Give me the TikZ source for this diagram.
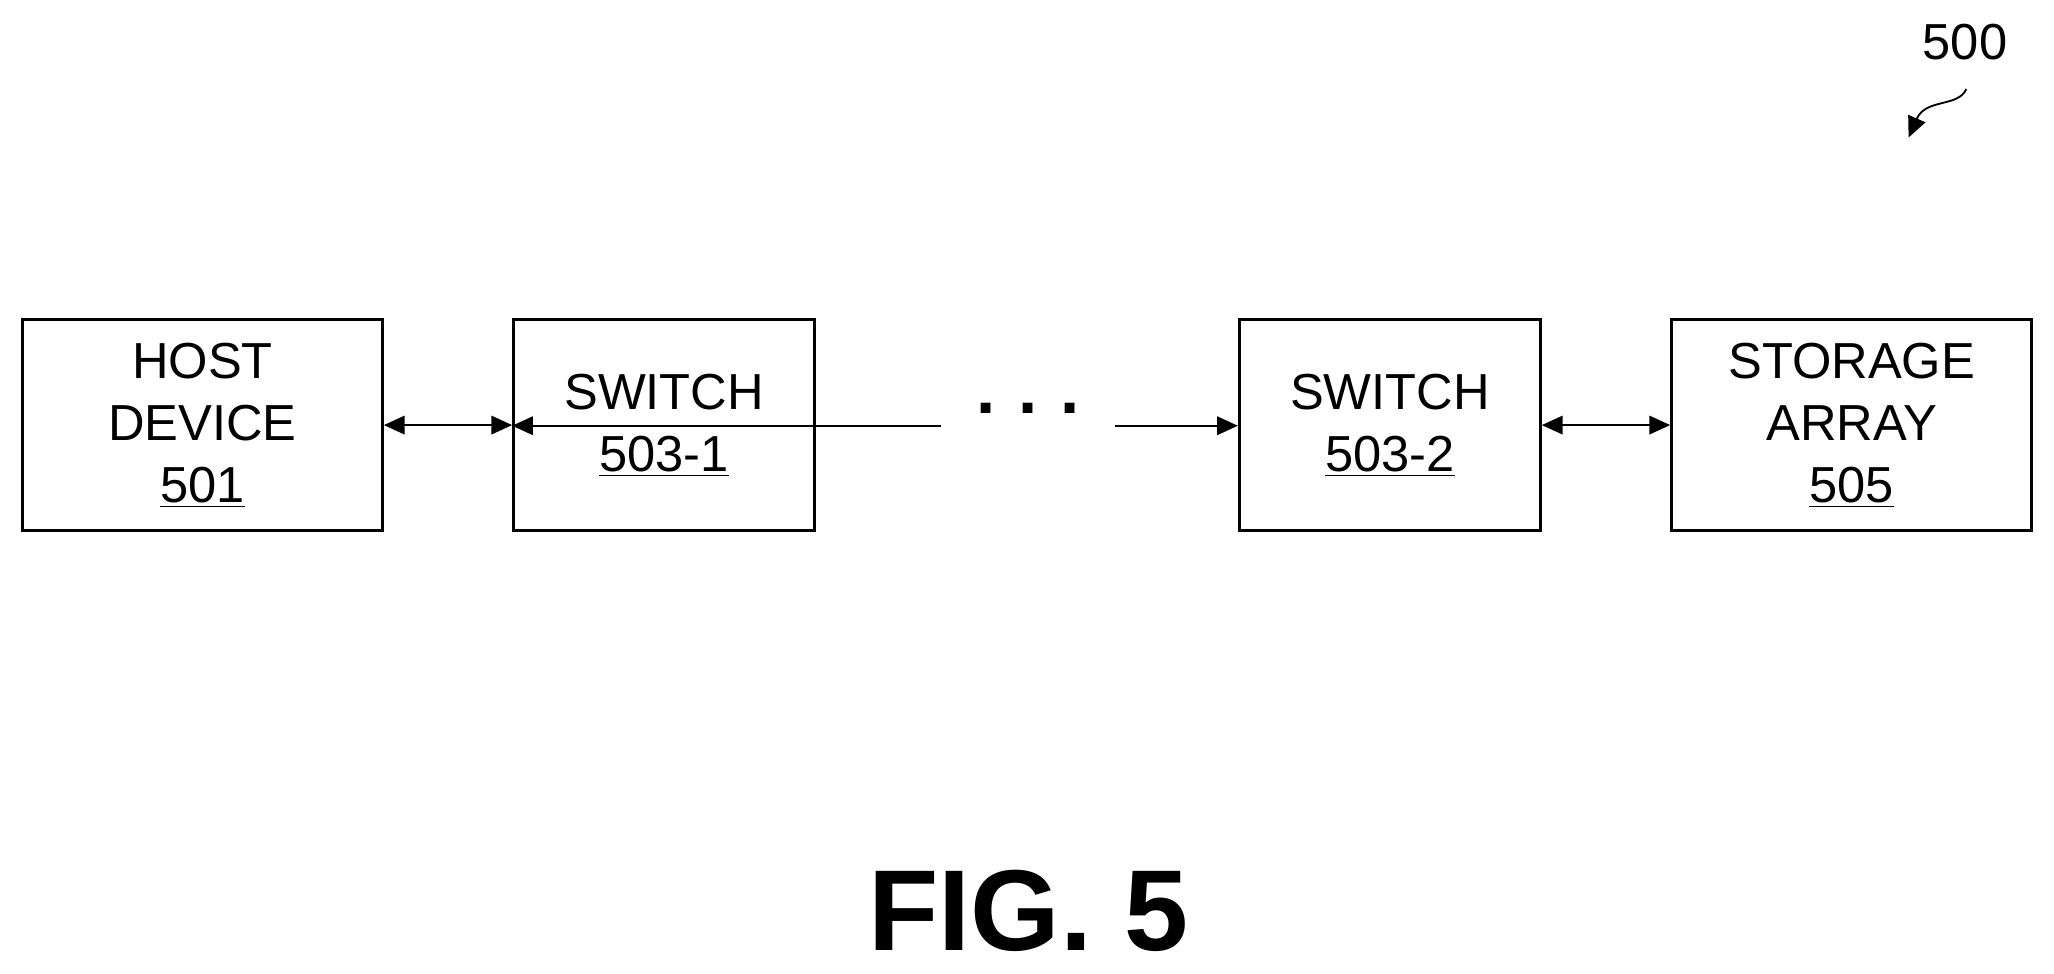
\documentclass[tikz,border=0pt]{standalone}
\usepackage{fontspec}
\setmainfont{Liberation Sans}
\usetikzlibrary{arrows.meta}
\begin{document}
\begin{tikzpicture}[x=0.02cm,y=-0.02cm,
  box/.style={draw,line width=1.2pt,minimum width=5.5cm,minimum height=3.22cm,inner sep=0pt,font=\fontsize{22}{27}\selectfont,align=center},
  sbox/.style={box,minimum width=4.6cm},
  con/.style={line width=0.9pt,{Triangle[length=9pt,width=8pt]}-{Triangle[length=9pt,width=8pt]}},
  one/.style={line width=0.9pt,-{Triangle[length=9pt,width=8pt]}}]
\useasboundingbox (0,0) rectangle (1568,743);
\node[box] (host) at (154.5,324.5) {HOST\\DEVICE\\\underline{501}};
\node[sbox] (s1) at (507,324.5) {SWITCH\\\underline{503-1}};
\node[sbox] (s2) at (1061,324.5) {SWITCH\\\underline{503-2}};
\node[box] (st) at (1413.5,324.5) {STORAGE\\ARRAY\\\underline{505}};
\coordinate (d1) at (718,325);
\coordinate (d2) at (851,325);
\node[font=\fontsize{30}{30}\selectfont\bfseries] (dots) at (785,312) {.\hspace{0.35cm}.\hspace{0.35cm}.};
\draw[con] (host) -- (s1);
\draw[one] (d1) -- (s1.west |- d1);
\draw[one] (d2) -- (s2.west |- d2);
\draw[con] (s2) -- (st);
\node[font=\fontsize{22}{22}\selectfont] (lbl) at (1500,32) {500};
\coordinate (a0) at (1501,68);
\coordinate (a1) at (1457,105);
\draw[one,line width=0.8pt] (a0) .. controls (1495,82) and (1470,75) .. (a1);
\node[font=\fontsize{50}{50}\selectfont\bfseries] (fig) at (785,695) {FIG. 5};
\end{tikzpicture}
\end{document}
